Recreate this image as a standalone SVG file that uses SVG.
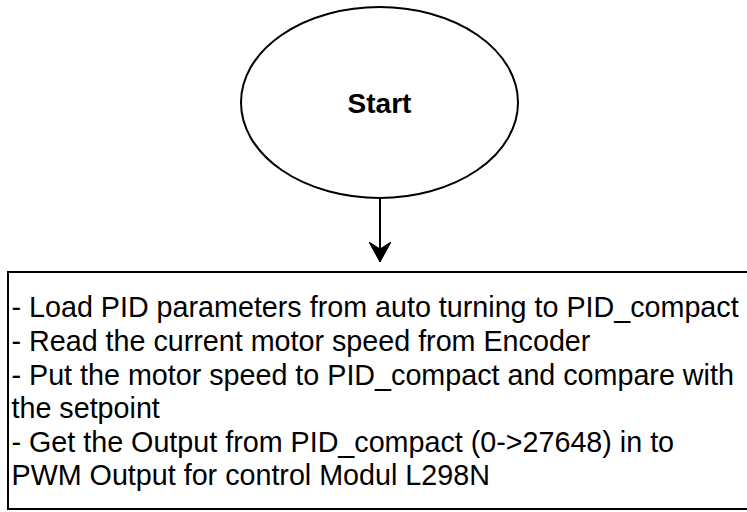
<svg xmlns="http://www.w3.org/2000/svg" width="747" height="512" viewBox="0 0 747 512">
  <defs>
    <marker id="arrow" viewBox="0 0 22 22" refX="11" refY="21" markerWidth="22" markerHeight="22" markerUnits="userSpaceOnUse" orient="0">
      <path d="M0,1 L11,8 L22,1 L11,21 Z" fill="#000" stroke="#000" stroke-width="1" stroke-linejoin="miter"/>
    </marker>
  </defs>
  <style>
    .shape { fill: #fff; stroke: #000; stroke-width: 2; }
    .label { font-family: "Liberation Sans", Arial, sans-serif; fill: #000; }
    .edge { fill: none; stroke: #000; stroke-width: 2; }
  </style>
  <rect width="747" height="512" fill="#fff"/>
  <g id="start">
    <ellipse class="shape" cx="379.5" cy="102.5" rx="138.5" ry="95.5"/>
    <text class="label" x="379.5" y="113" font-size="28" font-weight="bold" text-anchor="middle">Start</text>
  </g>
  <g id="process">
    <rect class="shape" x="8" y="272" width="745" height="237"/>
    <g class="label" font-size="28.7">
      <text transform="translate(11.5,317) scale(1,1.06)">- Load PID parameters from auto turning to PID_compact</text>
      <text transform="translate(11.5,351) scale(1,1.06)">- Read the current motor speed from Encoder</text>
      <text transform="translate(11.5,384.5) scale(1,1.06)">- Put the motor speed to PID_compact and compare with</text>
      <text transform="translate(11.5,418) scale(1,1.06)">the setpoint</text>
      <text transform="translate(11.5,452) scale(1,1.06)">- Get the Output from PID_compact (0-&gt;27648) in to</text>
      <text transform="translate(11.5,485) scale(1,1.06)">PWM Output for control Modul L298N</text>
    </g>
  </g>
  <g id="connectors">
    <path class="edge" d="M380,198 L380,262" marker-end="url(#arrow)"/>
  </g>
</svg>
